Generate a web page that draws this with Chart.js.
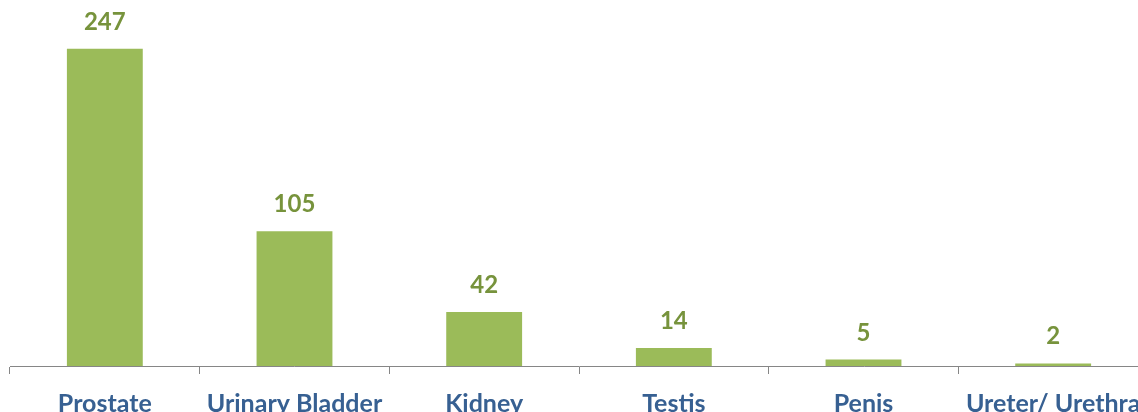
<!DOCTYPE html>
<html>
<head>
<meta charset="utf-8">
<script src="https://cdn.jsdelivr.net/npm/chart.js@4/dist/chart.umd.min.js"></script>
<style>
  html, body { margin: 0; padding: 0; background: #fff; overflow: hidden; }
  #wrap { position: relative; width: 1160px; height: 430px; }
</style>
</head>
<body>
<div id="wrap"><canvas id="organChart"></canvas></div>
<script>
// cancer cases by organ
const organs = ['Prostate', 'Urinary Bladder', 'Kidney', 'Testis', 'Penis', 'Ureter/ Urethra'];
const cases = [247, 105, 42, 14, 5, 2];

const barGreen = '#9BBB59';
const labelGreen = '#77933C';
const axisBlue = '#376092';
const axisGrey = '#868686';
const fontFamily = 'Lato, "Open Sans", sans-serif';

// value labels above each bar
const valueLabels = {
    id: 'valueLabels',
    afterDatasetsDraw(chart) {
        const ctx = chart.ctx;
        const meta = chart.getDatasetMeta(0);
        ctx.save();
        ctx.font = 'bold 24px ' + fontFamily;
        ctx.fillStyle = labelGreen;
        ctx.textAlign = 'center';
        ctx.textBaseline = 'alphabetic';
        meta.data.forEach((bar, i) => {
            ctx.fillText(String(cases[i]), bar.x, bar.y - 19);
        });
        ctx.restore();
    }
};

const ctx = document.getElementById('organChart').getContext('2d');
const organChart = new Chart(ctx, {
    type: 'bar',
    data: {
        labels: organs,
        datasets: [{
            label: 'Cases',
            data: cases,
            backgroundColor: barGreen,
            categoryPercentage: 1,
            barPercentage: 0.4
        }]
    },
    options: {
        responsive: true,
        maintainAspectRatio: false,
        animation: false,
        layout: {
            padding: { left: 10, right: 12, top: 0, bottom: 0 }
        },
        plugins: {
            legend: { display: false },
            tooltip: { enabled: false }
        },
        scales: {
            x: {
                grid: {
                    offset: true,
                    drawOnChartArea: false,
                    drawTicks: true,
                    tickLength: 8,
                    color: axisGrey
                },
                border: { color: axisGrey, width: 1 },
                ticks: {
                    autoSkip: false,
                    maxRotation: 0,
                    padding: 15,
                    color: axisBlue,
                    font: { family: fontFamily, size: 25, weight: 'bold' }
                },
                afterFit(scale) {
                    scale.height = 430 - 366;
                }
            },
            y: {
                display: false,
                min: 0,
                max: 285
            }
        }
    },
    plugins: [valueLabels]
});
</script>
</body>
</html>
